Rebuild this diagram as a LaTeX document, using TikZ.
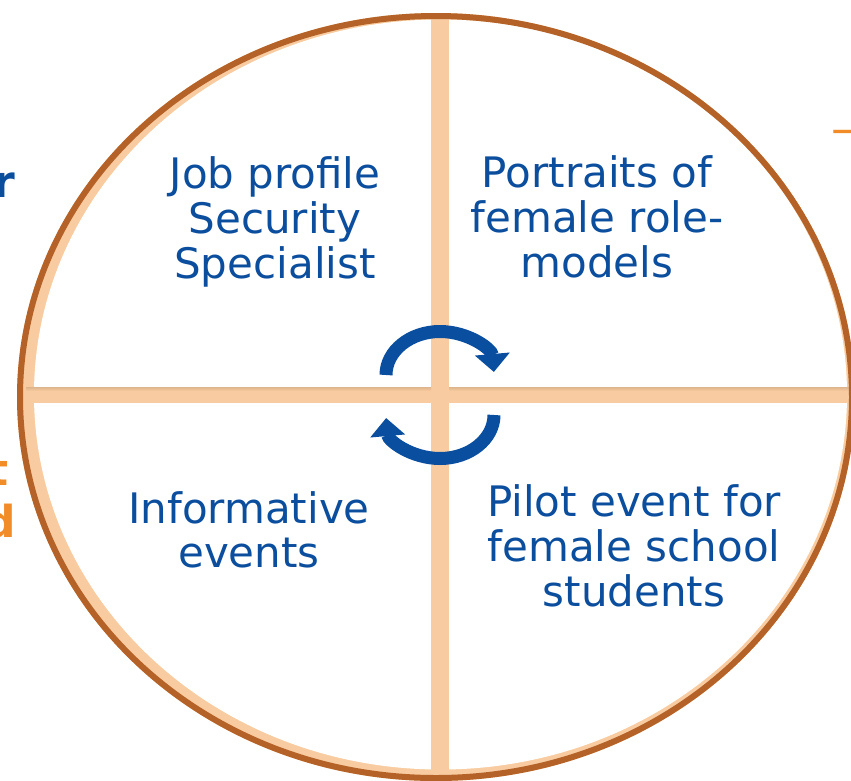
\documentclass[tikz,border=0pt]{standalone}
\usepackage{fontspec}
\setmainfont{DejaVu Sans}
\usetikzlibrary{arrows.meta}
\definecolor{txtblue}{RGB}{12,78,158}
\definecolor{arrblue}{RGB}{10,78,160}
\definecolor{ringbrown}{RGB}{180,98,40}
\definecolor{peach}{RGB}{248,204,160}
\definecolor{peachdark}{RGB}{222,180,140}
\definecolor{accent}{RGB}{242,140,40}
\tikzset{
  quadtext/.style={anchor=base, inner sep=0pt, text=txtblue,
    font=\fontsize{42}{45}\selectfont},
  edgetext/.style={anchor=base east, inner sep=0pt,
    font=\fontsize{44}{48}\selectfont\bfseries},
  cycarrow/.style={arrblue, line width=13pt,
    -{Triangle[length=18pt,width=34pt]}},
  crossbar/.style={fill=peach}
}
\begin{document}
\begin{tikzpicture}[x=1pt,y=-1pt]
\useasboundingbox (0,0) rectangle (851,780);
\begin{scope}
\clip (0,0) rectangle (851,780);
% ring: peach band inside a brown rim
\fill[peach] (436,397) ellipse [x radius=419, y radius=384];
\fill[white] (440.5,394.5) ellipse [x radius=406.5, y radius=375];
% the cross dividing the four quadrants
\fill[crossbar] (431,15) rectangle (449,779);
\fill[crossbar] (20,387) rectangle (852,403);
\shade[top color=peachdark, bottom color=peach] (26,387) rectangle (431,391);
\shade[top color=peachdark, bottom color=peach] (449,387) rectangle (849,391);
\draw[ringbrown, line width=6pt] (436,397) ellipse [x radius=416, y radius=381];
% cycle arrows in the centre
\draw[cycarrow] (386,375) arc[start angle=180, end angle=356, x radius=54, y radius=43.5];
\begin{scope}[rotate around={180:(440,395)}]
\draw[cycarrow] (386,375) arc[start angle=180, end angle=356, x radius=54, y radius=43.5];
\end{scope}
% quadrant labels
\node[quadtext] (q1a) at (275,188) {Job profile};
\node[quadtext] (q1b) at (275,233) {Security};
\node[quadtext] (q1c) at (275,278) {Specialist};
\node[quadtext] (q2a) at (597,187) {Portraits of};
\node[quadtext] (q2b) at (597,232) {female role-};
\node[quadtext] (q2c) at (597,277) {models};
\node[quadtext] (q3a) at (249,523) {Informative};
\node[quadtext] (q3b) at (249,567) {events};
\node[quadtext] (q4a) at (634,516) {Pilot event for};
\node[quadtext] (q4b) at (634,561) {female school};
\node[quadtext] (q4c) at (634,606) {students};
% text running in from the page edges
\node[edgetext, text=txtblue] (lr) at (15,197) {r};
\node[edgetext, text=accent] (lt) at (9,485) {t};
\node[edgetext, text=accent] (ld) at (16,537) {d};
\node[anchor=base west, inner sep=0pt, text=accent,
  font=\fontsize{40}{44}\selectfont] (ra) at (831,144) {→};
\end{scope}
\end{tikzpicture}
\end{document}
